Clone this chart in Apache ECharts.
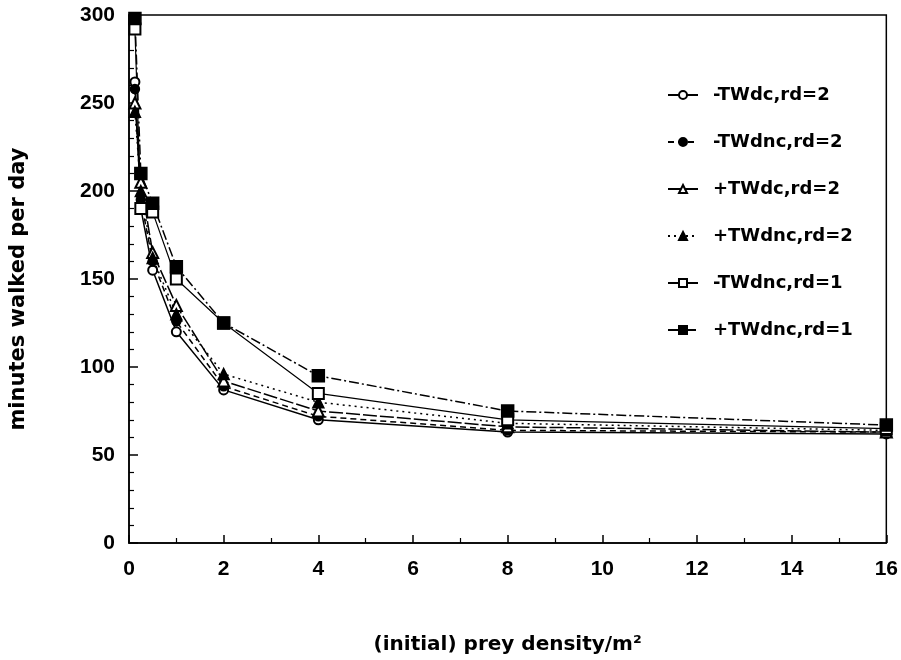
<!DOCTYPE html>
<html>
<head>
<meta charset="utf-8">
<script src="https://cdn.jsdelivr.net/npm/echarts@6/dist/echarts.min.js"></script>
<style>
  html, body { margin: 0; padding: 0; background: #fff; }
  #chart { width: 901px; height: 660px; }
</style>
</head>
<body>
<div id="chart"></div>
<script>
// prey density per m2 at which each run was made
const densities = [0.125, 0.25, 0.5, 1, 2, 4, 8, 16];

// minutes walked per day, one list per simulation set
const twdcRd2Minus = [262, 190, 155, 120, 87, 70, 63, 62];
const twdncRd2Minus = [258, 195, 160, 126, 89, 72, 64, 63];
const twdcRd2Plus = [250, 205, 165, 135, 92, 75, 66, 63];
const twdncRd2Plus = [245, 200, 162, 130, 96, 80, 68, 64];
const twdncRd1Minus = [292, 190, 188, 150, 125, 85, 70, 65];
const twdncRd1Plus = [298, 210, 193, 157, 125, 95, 75, 67];

const seriesNames = ['-TWdc,rd=2', '-TWdnc,rd=2', '+TWdc,rd=2', '+TWdnc,rd=2', '-TWdnc,rd=1', '+TWdnc,rd=1'];

const FONT = 'Liberation Sans';
const WIDE_FONT = 'DejaVu Sans';

function pairs(values) {
  return densities.map((d, i) => [d, values[i]]);
}

function makeSeries(name, values, symbol, size, dash, width) {
  return {
    name,
    type: 'line',
    data: pairs(values),
    symbol,
    symbolSize: size,
    showSymbol: true,
    animation: false,
    itemStyle: { color: '#000', borderColor: '#000', borderWidth: 1.5 },
    lineStyle: { color: '#000', width: width || 1.5, type: dash },
    emphasis: { disabled: true }
  };
}

const chart = echarts.init(document.getElementById('chart'));

chart.setOption({
  backgroundColor: '#fff',
  animation: false,
  grid: {
    left: 121, right: 13, top: 15, bottom: 110,
    show: true, borderColor: '#000', borderWidth: 1.5
  },
  legend: {
    orient: 'vertical',
    left: 662, top: 81,
    itemGap: 29,
    itemWidth: 30, itemHeight: 10,
    data: seriesNames,
    textStyle: {
      fontFamily: WIDE_FONT, fontWeight: 'bold', fontSize: 18, color: '#000',
      padding: [0, 0, 0, 10]
    }
  },
  xAxis: {
    type: 'value',
    min: 0, max: 16, interval: 2,
    name: '(initial) prey density/m²',
    nameLocation: 'middle',
    nameGap: 92,
    nameTextStyle: { fontFamily: WIDE_FONT, fontWeight: 'bold', fontSize: 20, color: '#000' },
    axisLine: { lineStyle: { color: '#000', width: 1.5 } },
    axisTick: { inside: true, length: 8, lineStyle: { color: '#000', width: 1.5 } },
    minorTick: { show: true, splitNumber: 2, length: 5, lineStyle: { color: '#000', width: 1.2 } },
    axisLabel: { margin: 16, fontFamily: FONT, fontWeight: 'bold', fontSize: 21, color: '#000' },
    splitLine: { show: false }
  },
  yAxis: {
    type: 'value',
    min: 0, max: 300, interval: 50,
    name: 'minutes walked per day',
    nameLocation: 'middle',
    nameGap: 100,
    nameTextStyle: {
      fontFamily: WIDE_FONT, fontWeight: 'bold', fontSize: 21, color: '#000',
      padding: [0, 20, 0, 0]
    },
    axisLine: { lineStyle: { color: '#000', width: 1.5 } },
    axisTick: { inside: true, length: 9, lineStyle: { color: '#000', width: 1.5 } },
    minorTick: { show: true, splitNumber: 5, length: 5, lineStyle: { color: '#000', width: 1.2 } },
    axisLabel: { margin: 14, fontFamily: FONT, fontWeight: 'bold', fontSize: 21, color: '#000' },
    splitLine: { show: false }
  },
  series: [
    makeSeries(seriesNames[0], twdcRd2Minus, 'emptyCircle', 9, 'solid'),
    makeSeries(seriesNames[1], twdncRd2Minus, 'circle', 9, [6, 4]),
    makeSeries(seriesNames[2], twdcRd2Plus, 'emptyTriangle', 11, [14, 3]),
    makeSeries(seriesNames[3], twdncRd2Plus, 'triangle', 11, [2, 4]),
    makeSeries(seriesNames[4], twdncRd1Minus, 'emptyRect', 11, 'solid', 1.2),
    makeSeries(seriesNames[5], twdncRd1Plus, 'rect', 12, [10, 3, 2, 3])
  ]
});
</script>
</body>
</html>
